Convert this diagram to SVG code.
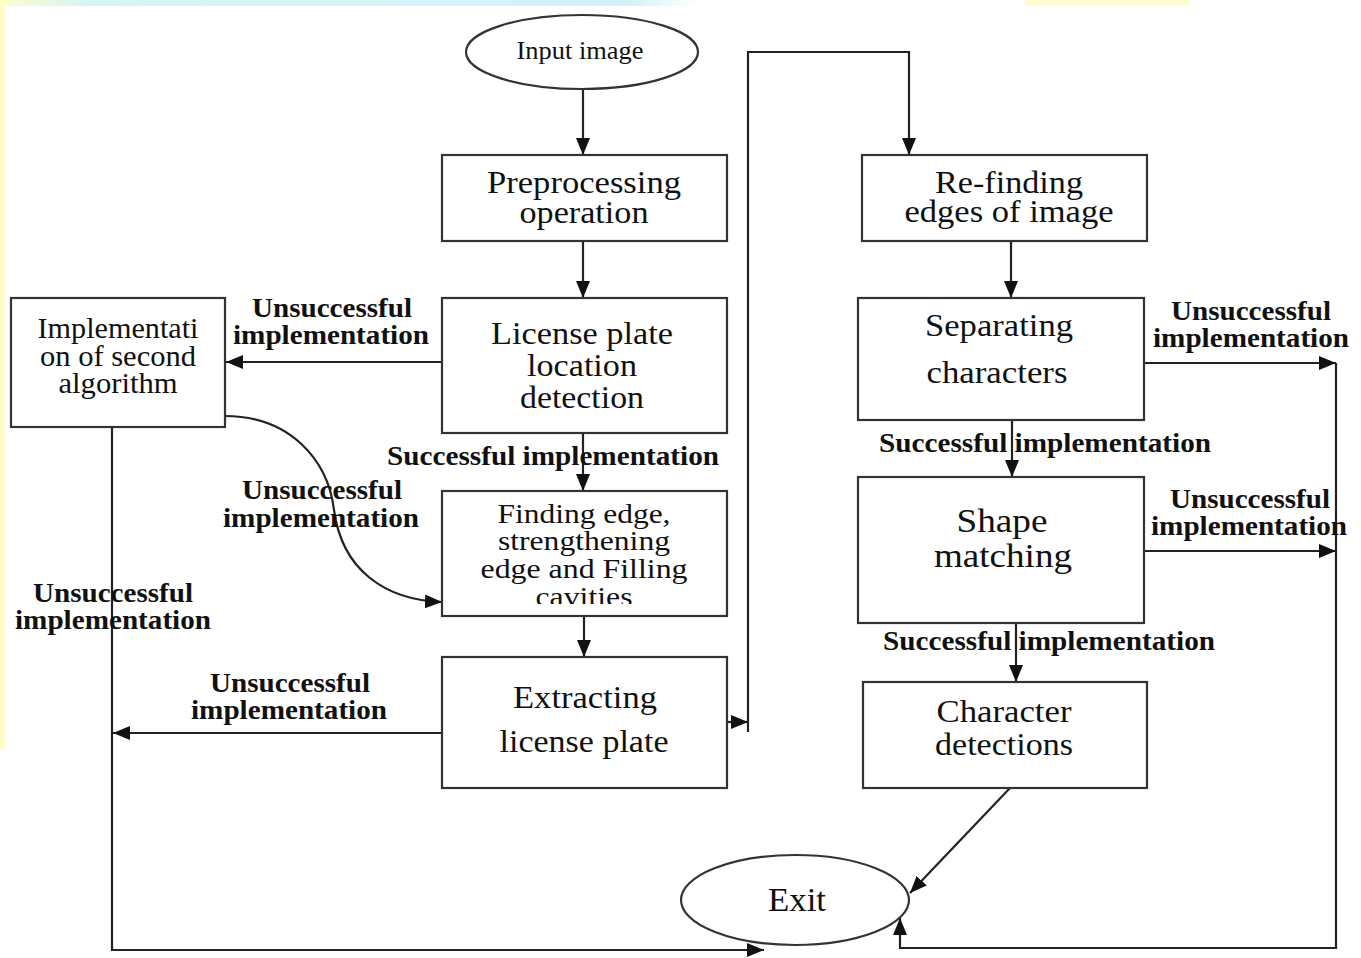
<svg xmlns="http://www.w3.org/2000/svg" width="1361" height="958" viewBox="0 0 1361 958">
<defs>
<marker id="ah" markerUnits="userSpaceOnUse" markerWidth="17" markerHeight="14" refX="17" refY="7" orient="auto">
<path d="M0,0 L17,7 L0,14 z" fill="#111"/>
</marker>
<clipPath id="clipFind"><rect x="443" y="491" width="283" height="113"/></clipPath>
<linearGradient id="cy" x1="0" x2="1" y1="0" y2="0">
<stop offset="0" stop-color="#fffccc"/><stop offset="0.12" stop-color="#d8f4f8"/><stop offset="0.9" stop-color="#d4f2f8"/><stop offset="1" stop-color="#ffffff"/>
</linearGradient>
</defs>
<style>
.box{fill:#fff;stroke:#333;stroke-width:2.2}
.ell{fill:#fff;stroke:#333;stroke-width:2.2}
.t{font-family:"Liberation Serif","Times New Roman",serif;font-size:32px;fill:#111;text-anchor:middle}
.lb{font-family:"Liberation Serif","Times New Roman",serif;font-size:27px;font-weight:bold;fill:#111;text-anchor:middle}
.c{fill:none;stroke:#222;stroke-width:2.2}
</style>
<rect width="1361" height="958" fill="#fff"/>
<rect x="0" y="0" width="700" height="6" fill="url(#cy)"/>
<rect x="1025" y="0" width="165" height="5" fill="#fffbd0"/>
<rect x="0" y="0" width="5" height="750" fill="#fffcc8"/>

<g id="connectors">
<path class="c" d="M583,90 L583,155" marker-end="url(#ah)"/>
<path class="c" d="M583,241 L583,298" marker-end="url(#ah)"/>
<path class="c" d="M583,433 L583,491" marker-end="url(#ah)"/>
<path class="c" d="M584,616 L584,657" marker-end="url(#ah)"/>
<path class="c" d="M442,362 L226,362" marker-end="url(#ah)"/>
<path class="c" d="M225,416 C290,416 328,460 334,510 C342,570 385,600 442,602" marker-end="url(#ah)"/>
<path class="c" d="M112,427 L112,950 L764,950" marker-end="url(#ah)"/>
<path class="c" d="M442,733 L113,733" marker-end="url(#ah)"/>
<path class="c" d="M727,722 L748,722" marker-end="url(#ah)"/>
<path class="c" d="M748,732 L748,52 L909,52 L909,155" marker-end="url(#ah)"/>
<path class="c" d="M1011,241 L1011,298" marker-end="url(#ah)"/>
<path class="c" d="M1012,420 L1012,477" marker-end="url(#ah)"/>
<path class="c" d="M1016,623 L1016,682" marker-end="url(#ah)"/>
<path class="c" d="M1010,788 L910,893" marker-end="url(#ah)"/>
<path class="c" d="M1144,363 L1336,363" marker-end="url(#ah)"/>
<path class="c" d="M1144,551 L1336,551" marker-end="url(#ah)"/>
<path class="c" d="M1336,363 L1336,948 L900,948 L900,918" marker-end="url(#ah)"/>
</g>

<g id="input">
<ellipse class="ell" cx="582" cy="52" rx="116" ry="37"/>
<text class="t" style="font-size:26px" x="580" y="59" textLength="127" lengthAdjust="spacingAndGlyphs">Input image</text>
</g>

<g id="preprocessing">
<rect class="box" x="442" y="155" width="285" height="86"/>
<text class="t" x="584" y="193" textLength="194" lengthAdjust="spacingAndGlyphs">Preprocessing</text>
<text class="t" x="584" y="223" textLength="129" lengthAdjust="spacingAndGlyphs">operation</text>
</g>

<g id="license">
<rect class="box" x="442" y="298" width="285" height="135"/>
<text class="t" x="582" y="344" textLength="182" lengthAdjust="spacingAndGlyphs">License plate</text>
<text class="t" x="582" y="376" textLength="110" lengthAdjust="spacingAndGlyphs">location</text>
<text class="t" x="582" y="408" textLength="124" lengthAdjust="spacingAndGlyphs">detection</text>
</g>

<g id="finding">
<rect class="box" x="442" y="491" width="285" height="125"/>
<g clip-path="url(#clipFind)">
<text class="t" style="font-size:28px" x="584" y="523" textLength="173" lengthAdjust="spacingAndGlyphs">Finding edge,</text>
<text class="t" style="font-size:28px" x="584" y="550" textLength="172" lengthAdjust="spacingAndGlyphs">strengthening</text>
<text class="t" style="font-size:28px" x="584" y="578" textLength="207" lengthAdjust="spacingAndGlyphs">edge and Filling</text>
<text class="t" style="font-size:28px" x="584" y="606" textLength="97" lengthAdjust="spacingAndGlyphs">cavities</text>
</g>
</g>

<g id="extracting">
<rect class="box" x="442" y="657" width="285" height="131"/>
<text class="t" x="585" y="708" textLength="144" lengthAdjust="spacingAndGlyphs">Extracting</text>
<text class="t" x="584" y="752" textLength="169" lengthAdjust="spacingAndGlyphs">license plate</text>
</g>

<g id="second">
<rect class="box" x="11" y="298" width="214" height="129"/>
<text class="t" style="font-size:29px" x="118" y="338" textLength="161" lengthAdjust="spacingAndGlyphs">Implementati</text>
<text class="t" style="font-size:29px" x="118" y="366" textLength="156" lengthAdjust="spacingAndGlyphs">on of second</text>
<text class="t" style="font-size:29px" x="118" y="393" textLength="119" lengthAdjust="spacingAndGlyphs">algorithm</text>
</g>

<g id="refinding">
<rect class="box" x="862" y="155" width="285" height="86"/>
<text class="t" x="1009" y="193" textLength="148" lengthAdjust="spacingAndGlyphs">Re-finding</text>
<text class="t" x="1009" y="222" textLength="209" lengthAdjust="spacingAndGlyphs">edges of image</text>
</g>

<g id="separating">
<rect class="box" x="858" y="298" width="286" height="122"/>
<text class="t" x="999" y="336" textLength="148" lengthAdjust="spacingAndGlyphs">Separating</text>
<text class="t" x="997" y="383" textLength="141" lengthAdjust="spacingAndGlyphs">characters</text>
</g>

<g id="shape">
<rect class="box" x="858" y="477" width="286" height="146"/>
<text class="t" style="font-size:33px" x="1002" y="532" textLength="91" lengthAdjust="spacingAndGlyphs">Shape</text>
<text class="t" style="font-size:33px" x="1003" y="567" textLength="138" lengthAdjust="spacingAndGlyphs">matching</text>
</g>

<g id="character">
<rect class="box" x="863" y="682" width="284" height="106"/>
<text class="t" x="1004" y="722" textLength="135" lengthAdjust="spacingAndGlyphs">Character</text>
<text class="t" x="1004" y="755" textLength="138" lengthAdjust="spacingAndGlyphs">detections</text>
</g>

<g id="exit">
<ellipse class="ell" cx="795" cy="900" rx="114" ry="45"/>
<text class="t" style="font-size:34px" x="797" y="911" textLength="58" lengthAdjust="spacingAndGlyphs">Exit</text>
</g>

<g id="labels">
<text class="lb" x="332" y="317" textLength="160" lengthAdjust="spacingAndGlyphs">Unsuccessful</text>
<text class="lb" x="331" y="344" textLength="196" lengthAdjust="spacingAndGlyphs">implementation</text>
<text class="lb" x="553" y="465" textLength="332" lengthAdjust="spacingAndGlyphs">Successful implementation</text>
<text class="lb" x="322" y="499" textLength="160" lengthAdjust="spacingAndGlyphs">Unsuccessful</text>
<text class="lb" x="321" y="527" textLength="196" lengthAdjust="spacingAndGlyphs">implementation</text>
<text class="lb" x="113" y="602" textLength="160" lengthAdjust="spacingAndGlyphs">Unsuccessful</text>
<text class="lb" x="113" y="629" textLength="196" lengthAdjust="spacingAndGlyphs">implementation</text>
<text class="lb" x="290" y="692" textLength="160" lengthAdjust="spacingAndGlyphs">Unsuccessful</text>
<text class="lb" x="289" y="719" textLength="196" lengthAdjust="spacingAndGlyphs">implementation</text>
<text class="lb" x="1045" y="452" textLength="332" lengthAdjust="spacingAndGlyphs">Successful implementation</text>
<text class="lb" x="1049" y="650" textLength="332" lengthAdjust="spacingAndGlyphs">Successful implementation</text>
<text class="lb" x="1251" y="320" textLength="160" lengthAdjust="spacingAndGlyphs">Unsuccessful</text>
<text class="lb" x="1251" y="347" textLength="196" lengthAdjust="spacingAndGlyphs">implementation</text>
<text class="lb" x="1250" y="508" textLength="160" lengthAdjust="spacingAndGlyphs">Unsuccessful</text>
<text class="lb" x="1249" y="535" textLength="196" lengthAdjust="spacingAndGlyphs">implementation</text>
</g>
</svg>
